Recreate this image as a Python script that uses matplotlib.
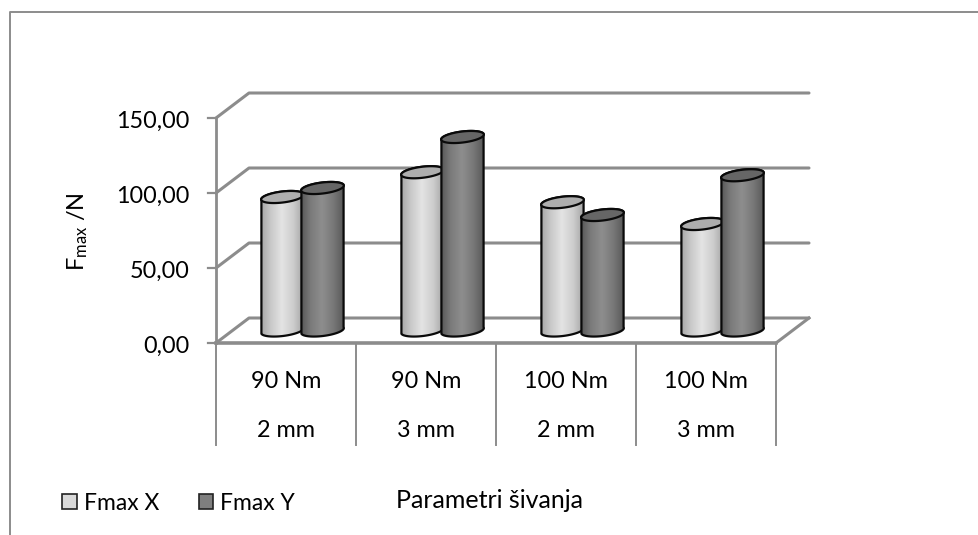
import numpy as np
import matplotlib
matplotlib.use('Agg')
import matplotlib.pyplot as plt
from matplotlib.colors import LinearSegmentedColormap
from matplotlib.patches import Patch, Polygon
from matplotlib.lines import Line2D

plt.rcParams['font.family'] = ['Lato', 'DejaVu Sans']
plt.rcParams['mathtext.fontset'] = 'custom'
plt.rcParams['mathtext.rm'] = 'Lato'
plt.rcParams['mathtext.default'] = 'rm'

torque = ['90 Nm', '90 Nm', '100 Nm', '100 Nm']
spacing = ['2 mm', '3 mm', '2 mm', '3 mm']
fmax_x = [89, 105.5, 85.5, 71]
fmax_y = [95, 129, 77, 103.5]
y_ticks = [0, 50, 100, 150]
y_labels = ['0,00', '50,00', '100,00', '150,00']

W, H = 979, 535
GRAY = '#8c8c8c'

fig = plt.figure(figsize=(W / 100, H / 100), dpi=100, facecolor='white')
ax = fig.add_axes([216 / W, (H - 343) / H, 560 / W, 225 / H])
ax.set_xlim(0, 4)
ax.set_ylim(0, 150)
ax.axis('off')

# size of one pixel in data units
px = 4 / 560
py = 150 / 225
depth_x = 33 * px
depth_y = 25 * py

# outer frame, only top and left are inside the picture
fig.add_artist(Line2D([9.5 / W, 9.5 / W, 1], [0, (H - 11.5) / H, (H - 11.5) / H],
                      color=GRAY, lw=1.4))

# walls
for v in y_ticks:
    ax.plot([0, depth_x, 4 + depth_x], [v, v + depth_y, v + depth_y], color=GRAY,
            lw=2.2, clip_on=False, zorder=1, solid_capstyle='round')
    ax.plot([-8 * px, 0], [v, v], color=GRAY, lw=1.6, clip_on=False, zorder=1)
    ax.text(-26 * px, v - 3 * py, y_labels[y_ticks.index(v)], ha='right', va='center',
            fontsize=16.8, color='black', clip_on=False)
ax.plot([4, 4 + depth_x], [0, depth_y], color=GRAY, lw=2.2, clip_on=False, zorder=1)
ax.plot([0, 4], [0, 0], color=GRAY, lw=2.6, clip_on=False, zorder=2)
ax.plot([0, 0], [0, 150], color=GRAY, lw=2, clip_on=False, zorder=2)

# two level category table under the axis
for i in range(5):
    ax.plot([i, i], [0, -102 * py], color=GRAY, lw=1.4, clip_on=False, zorder=1)
for i in range(4):
    ax.text(i + 0.5, -38 * py, torque[i], ha='center', va='center', fontsize=16.8)
    ax.text(i + 0.5, -87 * py, spacing[i], ha='center', va='center', fontsize=16.8)

light = LinearSegmentedColormap.from_list('light', ['#a0a0a0', '#c8c8c8', '#e4e4e4', '#cdcdcd', '#a0a0a0'])
dark = LinearSegmentedColormap.from_list('dark', ['#505050', '#7a7a7a', '#8e8e8e', '#787878', '#555555'])
ramp = np.linspace(0, 1, 128).reshape(1, -1)


def ring(cx, cy, t, a=21.5, b=5.5, tilt=np.radians(7)):
    ex = a * np.cos(t) * np.cos(tilt) - b * np.sin(t) * np.sin(tilt)
    ey = a * np.cos(t) * np.sin(tilt) + b * np.sin(t) * np.cos(tilt)
    return np.column_stack([cx + ex * px, cy + ey * py])


def cylinder(cx, value, cmap, cap, z):
    base = depth_y / 2
    top = base + value
    lower = np.linspace(np.pi * 1.04, np.pi * 2.04, 40)
    upper = lower - np.pi
    outline = np.vstack([ring(cx, base, lower), ring(cx, top, upper)])
    body = Polygon(outline, closed=True, fc='none', ec='#0a0a0a', lw=1.6,
                   joinstyle='round', clip_on=False, zorder=z + 0.2)
    ax.add_patch(body)
    im = ax.imshow(ramp, cmap=cmap, aspect='auto', vmin=0, vmax=1, zorder=z,
                   extent=[cx - 23 * px, cx + 23 * px, base - 10 * py, top + 10 * py],
                   clip_on=True)
    im.set_clip_path(body)
    ax.add_patch(Polygon(ring(cx, top, np.linspace(0, 2 * np.pi, 60)), closed=True,
                         fc=cap, ec='#0a0a0a', lw=1.6, clip_on=False, zorder=z + 0.3))


for i in range(4):
    centre = i + 0.5 + depth_x / 2
    cylinder(centre - 20 * px, fmax_x[i], light, '#aeaeae', 3 + i)
    cylinder(centre + 20 * px, fmax_y[i], dark, '#666666', 3.5 + i)

ax.set_xlim(0, 4)
ax.set_ylim(0, 150)

fig.text(78 / W, (H - 232) / H, r'$\mathrm{F_{max}}$ /N', rotation=90, ha='center', va='center',
         fontsize=17)
fig.text(490 / W, (H - 500) / H, 'Parametri šivanja', ha='center', va='center', fontsize=18)

handles = [Patch(fc='#d9d9d9', ec='#222222', lw=1.2), Patch(fc='#7f7f7f', ec='#222222', lw=1.2)]
fig.legend(handles, ['Fmax X', 'Fmax Y'], ncols=2, frameon=False, fontsize=16.5,
           loc='center left', bbox_to_anchor=(51 / W, (H - 503) / H), borderpad=0,
           handlelength=0.65, handleheight=0.65, handletextpad=0.3, columnspacing=1.7)

fig.savefig('out.png', dpi=100)
